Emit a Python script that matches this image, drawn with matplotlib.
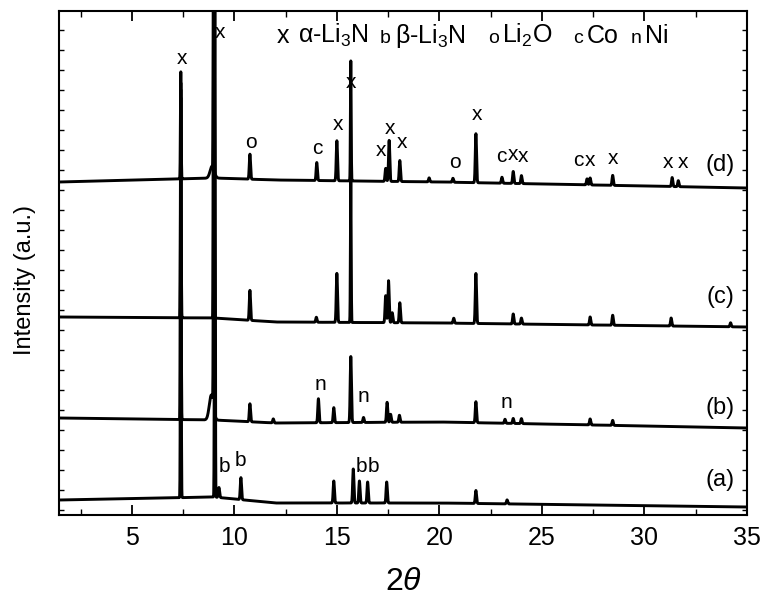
import numpy as np
import matplotlib
matplotlib.use("Agg")
import matplotlib.pyplot as plt
from matplotlib.ticker import MultipleLocator, NullFormatter

plt.rcParams['font.family'] = ['Liberation Sans', 'DejaVu Sans']
plt.rcParams['mathtext.fontset'] = 'custom'
plt.rcParams['mathtext.rm'] = 'Liberation Sans'
plt.rcParams['mathtext.it'] = 'Liberation Sans:italic'
plt.rcParams['mathtext.default'] = 'regular'

# 2theta grid of the scan
two_theta = np.arange(1.45, 35.0, 0.005)

# baseline anchors (2theta, level), one row per pattern
base_pos = [1.45, 9.0, 12.0, 20.0, 35.0]
base_a = [10, 13, 7, 7, 3]
base_b = [92, 90, 87, 88, 82]
base_c = [193, 192, 188, 187, 183]
base_d = [328, 332, 330, 328, 322]

# peak positions and heights above baseline (600 = off scale)
pos_a = [7.39, 9.05, 9.25, 10.32, 14.85, 15.80, 16.10, 16.50, 17.43, 21.78, 23.3]
hgt_a = [400, 600, 10, 22, 22, 34, 22, 21, 21, 13, 4]

pos_b = [7.39, 8.88, 9.0, 10.76, 11.9, 14.10, 14.85, 15.68, 16.30, 17.45, 17.62,
         18.05, 21.78, 23.2, 23.6, 24.0, 27.35, 28.45]
hgt_b = [330, 25, 600, 18, 4, 24, 15, 66, 5, 20, 8,
         7, 21, 4, 5, 5, 6, 5]

pos_c = [7.39, 9.0, 10.76, 14.0, 15.0, 15.68, 17.38, 17.52, 17.70, 18.07, 20.7,
         21.78, 23.6, 24.0, 27.35, 28.45, 31.3, 34.2]
hgt_c = [235, 600, 30, 5, 49, 142, 27, 42, 10, 20, 5,
         50, 10, 6, 8, 10, 8, 4]

pos_d = [7.39, 8.92, 9.0, 10.76, 14.02, 15.0, 15.68, 17.38, 17.55, 18.07, 19.5,
         20.66, 21.78, 23.05, 23.6, 24.0, 27.2, 27.35, 28.45, 31.35, 31.65]
hgt_d = [107, 12, 600, 25, 18, 40, 120, 13, 41, 21, 4,
         4, 49, 6, 12, 8, 6, 7, 10, 9, 6]

broad_feet = (8.88, 8.92)


def pattern(base, pos, hgt):
    y = np.interp(two_theta, base_pos, base)
    for p, h in zip(pos, hgt):
        if p in broad_feet:
            w = 0.1
        elif h >= 100:
            w = 0.018
        else:
            w = 0.03
        y = y + h * np.exp(-0.5 * ((two_theta - p) / w) ** 2)
    return y


fig = plt.figure(figsize=(7.63, 5.98), dpi=100)
ax = fig.add_axes([59 / 763, 83 / 598, 688 / 763, 504 / 598])

for base, pos, hgt in [(base_a, pos_a, hgt_a), (base_b, pos_b, hgt_b),
                       (base_c, pos_c, hgt_c), (base_d, pos_d, hgt_d)]:
    ax.plot(two_theta, pattern(base, pos, hgt), color='black', lw=2.1)

ax.set_xlim(1.45, 35)
ax.set_ylim(-5, 499)

ax.xaxis.set_major_locator(MultipleLocator(5))
ax.xaxis.set_minor_locator(MultipleLocator(2.5))
ax.yaxis.set_major_locator(MultipleLocator(20))
ax.yaxis.set_major_formatter(NullFormatter())
ax.tick_params(axis='x', which='major', direction='in', length=7, width=1.3,
               top=True, labelsize=18, pad=8)
ax.tick_params(axis='x', which='minor', direction='in', length=4, width=1,
               top=True)
ax.tick_params(axis='y', which='major', direction='in', length=3.5, width=1,
               right=True)
for s in ax.spines.values():
    s.set_linewidth(1.5)

ax.set_xlabel(r'2$\mathit{\theta}$', fontsize=23, labelpad=12)
ax.set_ylabel('Intensity (a.u.)', fontsize=17)
ax.yaxis.set_label_coords(-0.033, 0.466)

# phase key along the top
ax.text(12.05, 467, 'x', fontsize=18, va='baseline')
ax.text(13.10, 467, 'α-Li$_3$N', fontsize=18, va='baseline')
ax.text(17.10, 467, 'b', fontsize=14, va='baseline')
ax.text(17.83, 467, 'β-Li$_3$N', fontsize=18, va='baseline')
ax.text(22.40, 467, 'o', fontsize=14, va='baseline')
ax.text(23.05, 467, 'Li$_2$O', fontsize=18, va='baseline')
ax.text(26.50, 467, 'c', fontsize=14, va='baseline')
ax.text(27.20, 467, 'Co', fontsize=18, va='baseline')
ax.text(29.35, 467, 'n', fontsize=14, va='baseline')
ax.text(30.02, 467, 'Ni', fontsize=18, va='baseline')

# peak labels
peak_labels = [
    (7.44, 452, 'x'), (9.29, 478, 'x'), (10.80, 368, 'o'), (14.07, 362, 'c'),
    (15.05, 386, 'x'), (15.68, 428, 'x'), (17.15, 360, 'x'), (17.59, 382, 'x'),
    (18.17, 367, 'x'), (20.76, 348, 'o'), (21.83, 395, 'x'),
    (23.0, 354, 'c'), (23.59, 356, 'x'), (24.07, 354, 'x'),
    (26.76, 350, 'c'), (27.34, 350, 'x'), (28.46, 352, 'x'),
    (31.15, 348, 'x'), (31.88, 348, 'x'),
    (14.22, 126, 'n'), (16.32, 114, 'n'), (23.29, 107, 'n'),
    (9.54, 43, 'b'), (10.32, 49, 'b'), (16.22, 44, 'b'), (16.80, 44, 'b'),
]
for x, y, s in peak_labels:
    ax.text(x, y, s, fontsize=15, ha='center', va='center')

for y, s in [(345, '(d)'), (213, '(c)'), (102, '(b)'), (30, '(a)')]:
    ax.text(33.7, y, s, fontsize=17, ha='center', va='center')

fig.savefig('out.png', dpi=100)
